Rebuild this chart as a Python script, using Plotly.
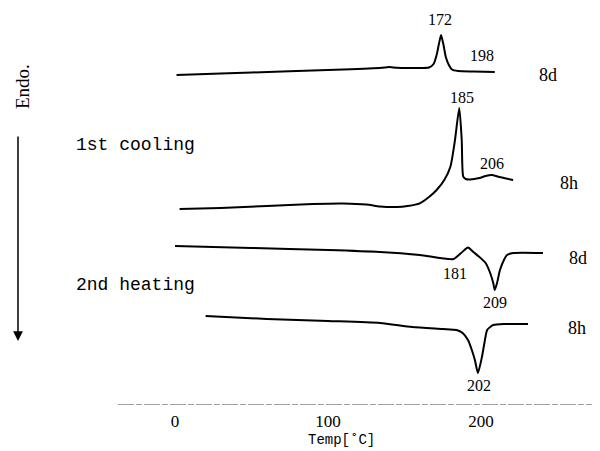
import plotly.graph_objects as go

# ---- data (temperature in deg C, heat-flow signal in arbitrary offset units) ----
cool_8d_T = [1, 30, 70, 110, 135, 140, 145, 155, 166, 169, 171, 172.5, 173.9, 175.5, 177, 179, 181, 185, 195, 209]
cool_8d_y = [33.0, 33.15, 33.35, 33.55, 33.72, 33.8, 33.72, 33.7, 33.75, 34.1, 35.0, 36.1, 37.0, 36.0, 34.8, 34.0, 33.55, 33.4, 33.35, 33.3]

cool_8h_T = [3, 30, 60, 90, 110, 125, 134, 145, 152, 160, 166, 171, 176, 180, 183, 185.8, 187.4, 188.4, 190, 193, 199, 203, 207, 212, 221]
cool_8h_y = [19.6, 19.7, 19.9, 20.1, 20.15, 20.05, 19.85, 19.8, 19.9, 20.17, 20.8, 21.5, 22.5, 23.83, 26.5, 29.7, 26.5, 22.83, 22.6, 22.55, 22.7, 22.9, 23.0, 22.8, 22.5]

heat_8d_T = [0, 50, 100, 134, 160, 182, 187, 191.5, 195, 199, 203, 206, 208, 209, 210.5, 212.4, 215, 217, 221, 240.5]
heat_8d_y = [15.9, 15.7, 15.5, 15.3, 15.0, 14.6, 15.2, 15.75, 15.3, 14.8, 14.2, 13.2, 12.2, 11.5, 12.2, 13.5, 14.5, 15.0, 15.2, 15.2]

heat_8h_T = [20, 60, 100, 134, 155, 175, 184, 188, 191.5, 194, 196, 198, 200.6, 202, 204, 206, 208, 215, 230.7]
heat_8h_y = [8.9, 8.6, 8.4, 8.2, 7.8, 7.6, 7.5, 7.2, 6.5, 5.5, 4.5, 3.2, 4.8, 6.0, 7.5, 7.8, 8.0, 8.1, 8.1]

peak_labels = ["172", "198", "185", "206", "181", "209", "202"]
peak_label_T = [173.2, 200.5, 187.5, 207.5, 183.0, 209.0, 198.7]
peak_label_y = [38.6, 35.0, 30.8, 24.2, 13.2, 10.3, 2.0]

sample_labels = ["8d", "8h", "8d", "8h"]
sample_label_T = [243.5, 257.5, 263.5, 263.0]
sample_label_y = [33.0, 22.2, 14.7, 7.7]

x_ticks = [0, 100, 200]
x_tick_text = ["0", "100", "200"]
x_title = "Temp[˚C]"

# ---- figure (page body has an 8px margin, so the figure is 592x443) ----
W, H = 592, 443
PLOT_H = 397

fig = go.Figure()
line_style = dict(color="black", width=2, shape="spline", smoothing=0.6)
for T, y in [(cool_8d_T, cool_8d_y), (cool_8h_T, cool_8h_y),
             (heat_8d_T, heat_8d_y), (heat_8h_T, heat_8h_y)]:
    fig.add_trace(go.Scatter(x=T, y=y, mode="lines", line=line_style,
                             showlegend=False, hoverinfo="skip"))

serif = "Liberation Serif"
mono = "Liberation Mono"

annotations = []
for t, xt, yt in zip(peak_labels, peak_label_T, peak_label_y):
    annotations.append(dict(x=xt, y=yt, text=t, showarrow=False,
                            font=dict(family=serif, size=16, color="black")))
for t, xt, yt in zip(sample_labels, sample_label_T, sample_label_y):
    annotations.append(dict(x=xt, y=yt, text=t, showarrow=False,
                            font=dict(family=serif, size=18, color="black")))

annotations += [
    dict(x=-25.5, y=26.0, text="1st cooling", showarrow=False,
         font=dict(family=mono, size=18, color="black")),
    dict(x=-25.5, y=12.0, text="2nd heating", showarrow=False,
         font=dict(family=mono, size=18, color="black")),
    dict(xref="paper", yref="paper", x=14 / W, y=(PLOT_H - 79) / PLOT_H, text="Endo.",
         textangle=-90, showarrow=False, xanchor="center", yanchor="middle",
         font=dict(family=serif, size=19, color="black")),
    dict(xref="paper", yref="paper", x=10 / W, y=(PLOT_H - 333) / PLOT_H,
         ax=0, ay=-206, text="", showarrow=True, arrowhead=2,
         arrowsize=1.3, arrowwidth=1.5, arrowcolor="black"),
    dict(xref="x", yref="paper", x=108.5, y=(PLOT_H - 432) / PLOT_H, text=x_title,
         showarrow=False, xanchor="center", yanchor="middle",
         font=dict(family=mono, size=14, color="black")),
]

fig.update_layout(
    width=W, height=H,
    margin=dict(l=0, r=0, t=0, b=H - PLOT_H),
    paper_bgcolor="white", plot_bgcolor="white",
    annotations=annotations,
    shapes=[dict(type="line", xref="x", yref="y", x0=-37.3, x1=278, y0=0, y1=0,
                 line=dict(color="#444444", width=1, dash="16px,2px,6px,2px"))],
    xaxis=dict(range=[-109.15, 277.78], showgrid=False, zeroline=False,
               showline=False, ticks="", tickvals=x_ticks, ticktext=x_tick_text,
               ticklabelstandoff=4,
               tickfont=dict(family=serif, size=17, color="black")),
    yaxis=dict(range=[0, PLOT_H / 10], visible=False),
)

fig.write_html("out.html")
